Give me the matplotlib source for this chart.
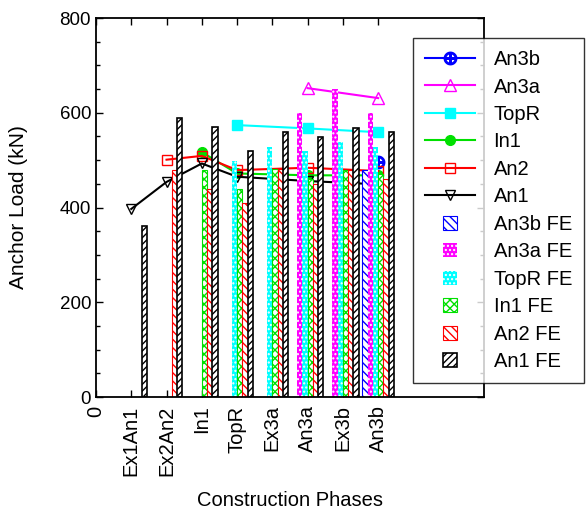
import matplotlib
matplotlib.use("Agg")
import matplotlib.pyplot as plt
import matplotlib.patches as mpatches
from matplotlib.legend_handler import HandlerPatch
import numpy as np

plt.rcParams['font.family'] = ['Liberation Sans', 'DejaVu Sans']
plt.rcParams['hatch.linewidth'] = 1.0

phases = ['Ex1An1', 'Ex2An2', 'In1', 'TopR', 'Ex3a', 'An3a', 'Ex3b', 'An3b']

# measured anchor loads (lines)
an3b_phases = ['An3b']
an3b = [497]
an3a_phases = ['An3a', 'An3b']
an3a = [652, 631]
topr_phases = ['TopR', 'An3a', 'An3b']
topr = [574, 567, 559]
in1_phases = ['In1', 'TopR', 'An3a', 'An3b']
in1 = [517, 472, 468, 468]
an2_phases = ['Ex2An2', 'In1', 'TopR', 'An3a', 'An3b']
an2 = [501, 509, 479, 484, 477]
an1_phases = ['Ex1An1', 'Ex2An2', 'In1', 'TopR', 'An3a', 'An3b']
an1 = [397, 454, 493, 465, 456, 449]

# FE results (bars), one value per phase
an3b_fe = [0, 0, 0, 0, 0, 0, 0, 479]
an3a_fe = [0, 0, 0, 0, 0, 600, 650, 600]
topr_fe = [0, 0, 0, 499, 528, 519, 539, 528]
in1_fe = [0, 0, 479, 439, 481, 460, 479, 470]
an2_fe = [0, 479, 439, 410, 481, 449, 479, 460]
an1_fe = [360, 589, 569, 520, 559, 548, 568, 559]

green = '#00e000'

fig = plt.figure(figsize=(5.87, 5.15), dpi=100)
ax = fig.add_axes([0.1635, 0.229, 0.661, 0.736])

pos = {p: i + 1 for i, p in enumerate(phases)}
def xs(names):
    return [pos[n] for n in names]

lines = []
lines += ax.plot(xs(an3b_phases), an3b, color='blue', marker=r'$\oplus$', ms=9, lw=1.5, label='An3b', zorder=1)
lines += ax.plot(xs(an3a_phases), an3a, color='magenta', marker='^', mfc='none', ms=8, lw=1.5, label='An3a', zorder=1)
lines += ax.plot(xs(topr_phases), topr, color='cyan', marker='s', ms=7, lw=1.5, label='TopR', zorder=1)
lines += ax.plot(xs(in1_phases), in1, color=green, marker='o', ms=7, lw=1.5, label='In1', zorder=1)
lines += ax.plot(xs(an2_phases), an2, color='red', marker='s', mfc='none', ms=7, lw=1.5, label='An2', zorder=1)
lines += ax.plot(xs(an1_phases), an1, color='black', marker='v', mfc='none', ms=7, lw=1.5, label='An1', zorder=1)

x = np.arange(1, len(phases) + 1)
w = 0.15
bar_sets = [
    (an3b_fe, dict(facecolor='white', edgecolor='blue', hatch='\\\\\\\\', linewidth=0.8), 'An3b FE'),
    (an3a_fe, dict(facecolor='magenta', edgecolor='white', hatch='....', linewidth=0), 'An3a FE'),
    (topr_fe, dict(facecolor='cyan', edgecolor='white', hatch='....', linewidth=0), 'TopR FE'),
    (in1_fe, dict(facecolor='white', edgecolor=green, hatch='xxxx', linewidth=0.8), 'In1 FE'),
    (an2_fe, dict(facecolor='white', edgecolor='red', hatch='\\\\\\\\', linewidth=0.8), 'An2 FE'),
    (an1_fe, dict(facecolor='white', edgecolor='black', hatch='/////', linewidth=1.2), 'An1 FE'),
]
patches = []
for i, (vals, style, lab) in enumerate(bar_sets):
    ax.bar(x + (i - 2.5) * w, vals, w, zorder=2, **style)
    patches.append(mpatches.Rectangle((0, 0), 1, 1, label=lab, **style))

ax.set_xlim(0, 11)
ax.set_ylim(0, 800)
ax.set_xticks([0] + list(x))
ax.set_xticklabels(['0'] + phases, rotation=90, fontsize=14.5)
ax.set_yticks([0, 200, 400, 600, 800])
ax.set_yticks(np.arange(0, 801, 50), minor=True)
ax.tick_params(axis='y', labelsize=13.5)
ax.tick_params(direction='in', top=True, right=True, length=5, width=1)
ax.tick_params(which='minor', direction='in', right=True, length=3, width=1)
ax.tick_params(axis='x', pad=6)
for s in ax.spines.values():
    s.set_linewidth(1.3)

ax.set_ylabel('Anchor Load (kN)', fontsize=15)
ax.yaxis.set_label_coords(-0.175, 0.5)
ax.set_xlabel('Construction Phases', fontsize=14.5, labelpad=11)

def small_square(legend, orig_handle, xdescent, ydescent, width, height, fontsize):
    s = height * 1.0
    return mpatches.Rectangle((width / 2 - s / 2 - xdescent, -ydescent + (height - s) / 2), s, s)

leg = fig.legend(handles=lines + patches, loc='upper left',
                 bbox_to_anchor=(413 / 587, 1 - 38 / 515), borderaxespad=0,
                 fontsize=14.5, frameon=True, fancybox=False, edgecolor='black',
                 handlelength=2.5, labelspacing=0.42, borderpad=0.6,
                 handletextpad=0.9,
                 handler_map={mpatches.Rectangle: HandlerPatch(patch_func=small_square)})
leg.get_frame().set_linewidth(1.0)

fig.savefig('out.png', dpi=100)
